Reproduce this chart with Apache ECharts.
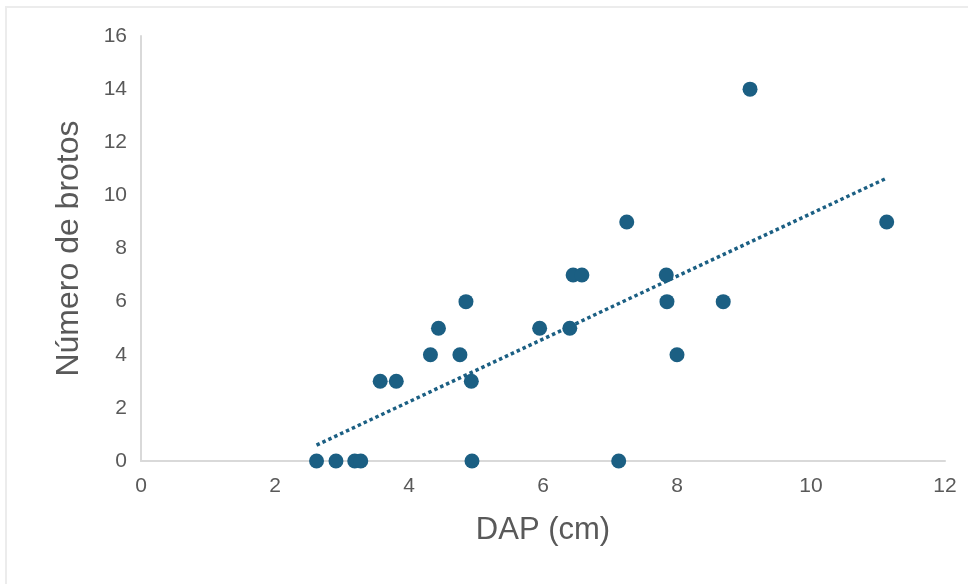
<!DOCTYPE html>
<html>
<head>
<meta charset="utf-8">
<script src="https://cdn.jsdelivr.net/npm/echarts@6/dist/echarts.min.js"></script>
<style>
  html, body { margin: 0; padding: 0; background: #fff; }
  #chart { width: 968px; height: 584px; }
</style>
</head>
<body>
<div id="chart"></div>
<script>
// DAP (cm) of each plant and its number of shoots
const dap = [2.62, 2.91, 3.19, 3.28, 4.94, 7.13,
             3.57, 3.81, 4.93,
             4.32, 4.76, 8.0,
             4.44, 5.95, 6.40,
             4.85, 7.85, 8.69,
             6.45, 6.58, 7.84,
             7.25, 11.13,
             9.09];
const brotos = [0, 0, 0, 0, 0, 0,
                3, 3, 3,
                4, 4, 4,
                5, 5, 5,
                6, 6, 6,
                7, 7, 7,
                9, 9,
                14];
// linear trendline end points, as drawn in the picture
const trendX = [2.62, 11.13];
const trendY = [0.6, 10.65];

const xTicks = [0, 2, 4, 6, 8, 10, 12];
const yTicks = [0, 2, 4, 6, 8, 10, 12, 14, 16];

const color = '#1b5f83';
const textColor = '#595959';
const font = 'Liberation Sans, Arial, sans-serif';

const chart = echarts.init(document.getElementById('chart'));
chart.setOption({
    animation: false,
    backgroundColor: '#fff',
    grid: {left: 141, right: 23, top: 36, bottom: 123},
    graphic: [
        {type: 'line', shape: {x1: 5, y1: 7, x2: 968, y2: 7}, style: {stroke: '#ececec', lineWidth: 2}},
        {type: 'line', shape: {x1: 6, y1: 7, x2: 6, y2: 584}, style: {stroke: '#ececec', lineWidth: 2}}
    ],
    xAxis: {
        type: 'value',
        min: xTicks[0],
        max: xTicks[xTicks.length - 1],
        interval: 2,
        name: 'DAP (cm)',
        nameLocation: 'middle',
        nameGap: 54,
        nameTextStyle: {color: textColor, fontSize: 31, fontFamily: font},
        axisLine: {show: true, lineStyle: {color: '#d9d9d9', width: 2}},
        axisTick: {show: false},
        splitLine: {show: false},
        axisLabel: {color: textColor, fontSize: 21, fontFamily: font, margin: 15}
    },
    yAxis: {
        type: 'value',
        min: yTicks[0],
        max: yTicks[yTicks.length - 1],
        interval: 2,
        name: 'Número de brotos',
        nameLocation: 'middle',
        nameGap: 56,
        nameTextStyle: {color: textColor, fontSize: 32, fontFamily: font},
        axisLine: {show: true, lineStyle: {color: '#d9d9d9', width: 2}},
        axisTick: {show: false},
        splitLine: {show: false},
        axisLabel: {color: textColor, fontSize: 21, fontFamily: font, margin: 14}
    },
    series: [
        {
            type: 'line',
            data: trendX.map((x, i) => [x, trendY[i]]),
            showSymbol: false,
            symbol: 'none',
            lineStyle: {color: color, width: 3.5, type: [3.5, 3]},
            z: 1
        },
        {
            type: 'scatter',
            data: dap.map((x, i) => [x, brotos[i]]),
            symbolSize: 15,
            itemStyle: {color: color, opacity: 1},
            z: 2
        }
    ]
});
</script>
</body>
</html>
